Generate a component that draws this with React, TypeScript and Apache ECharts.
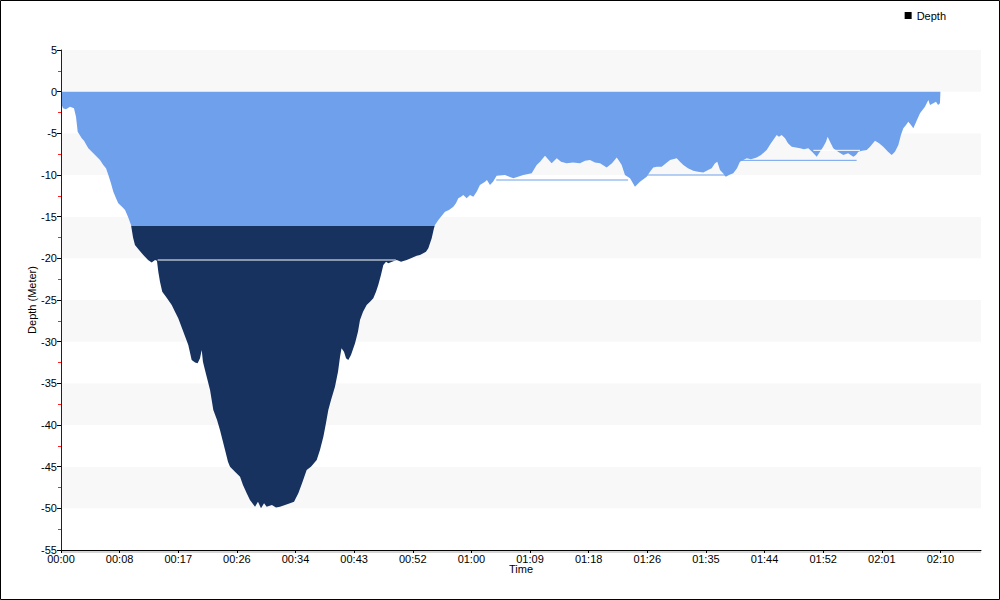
import React, { useEffect, useRef } from "react";
import * as echarts from "echarts";

// elapsed time in seconds
const times = [
  0, 6, 18, 44, 80, 115, 133, 148, 184, 204, 242, 302, 346, 375, 399, 420, 443, 464, 488, 508,
  541, 568, 594, 621, 639, 656, 692, 730, 772, 804, 834, 851, 863, 878, 898, 931, 982, 1011, 1040, 1085,
  1129, 1159, 1189, 1212, 1233, 1248, 1259, 1277, 1322, 1351, 1384, 1410, 1455, 1481, 1499, 1543, 1588, 1614, 1647, 1676,
  1721, 1747, 1774, 1801, 1824, 1871, 1907, 1942, 1987, 2031, 2067, 2105, 2138, 2179, 2217, 2268, 2297, 2327, 2350, 2371,
  2395, 2430, 2457, 2475, 2488, 2510, 2528, 2548, 2572, 2608, 2634, 2652, 2679, 2711, 2741, 2770, 2794, 2814, 2838, 2859,
  2883, 2903, 2936, 2978, 3016, 3066, 3104, 3155, 3184, 3213, 3237, 3258, 3288, 3308, 3317, 3347, 3370, 3406, 3441, 3480,
  3503, 3524, 3548, 3568, 3598, 3628, 3657, 3687, 3716, 3761, 3778, 3805, 3832, 3864, 3938, 4012, 4053, 4100, 4175, 4219,
  4249, 4293, 4320, 4352, 4397, 4435, 4485, 4541, 4603, 4648, 4692, 4736, 4781, 4840, 4887, 4929, 4949, 4973, 5002, 5047,
  5091, 5135, 5195, 5224, 5253, 5286, 5328, 5366, 5402, 5461, 5490, 5520, 5561, 5608, 5650, 5697, 5739, 5771, 5801, 5821,
  5845, 5872, 5896, 5925, 5963, 5996, 6022, 6082, 6120, 6170, 6209, 6259, 6297, 6348, 6368, 6392, 6422, 6448, 6481, 6519,
  6555, 6590, 6628, 6661, 6703, 6732, 6761, 6785, 6800, 6821, 6850, 6892, 6939, 6981, 7028, 7051, 7072, 7105, 7146, 7176,
  7220, 7256, 7293, 7335, 7368, 7397, 7427, 7450, 7471, 7495, 7515, 7539, 7560, 7592, 7619, 7663, 7693, 7708, 7737, 7761,
  7779, 7796, 7800,
];

// depth in meters
const depths = [
  0, -1.6, -2.0, -2.1, -1.8, -2.0, -3.0, -4.8, -5.6, -5.9, -6.8, -7.6, -8.2, -8.8, -9.2, -10, -11, -12, -12.8, -13.4,
  -13.8, -14.2, -15, -16, -17.5, -18.4, -19, -19.6, -20.2, -20.5, -20.2, -20.3, -21.6, -22.8, -24, -24.6, -25.6, -26.4, -27.2, -28.8,
  -30.4, -32.2, -32.5, -32.6, -32, -31, -32.4, -33.4, -35.8, -38.2, -39.4, -40.6, -43, -44.4, -45, -45.6, -46.2, -47.2, -48.2, -49,
  -49.8, -49.2, -50, -49.4, -49.8, -49.6, -49.9, -49.8, -49.6, -49.4, -49.2, -48.2, -47, -45.4, -45, -44.2, -43, -41.4, -39.8, -38.2,
  -37, -35.4, -33.6, -31.8, -30.8, -31.2, -32, -32.2, -31.6, -30.2, -28.8, -27.4, -26.4, -25.6, -25.2, -24.8, -24, -23.2, -22, -20.8,
  -20.4, -20.6, -20.4, -20.2, -20.4, -20.2, -20, -19.7, -19.6, -19.4, -19.2, -18.8, -17.6, -16.4, -16, -15.4, -15, -14.4, -14.2, -13.8,
  -13.4, -12.8, -12.6, -12.4, -12.8, -12.4, -12.6, -12, -11.2, -10.8, -10.6, -11.2, -10.8, -10.1, -10, -10.4, -10.2, -10, -9.8, -8.8,
  -8.4, -7.7, -8.1, -8.6, -8, -8.4, -8.6, -8.5, -8.6, -8.3, -8.2, -8.5, -8.6, -9.1, -8.6, -7.9, -8.3, -8.8, -10, -10.4,
  -11.4, -10.8, -10.2, -9.6, -9.1, -9, -9, -8.6, -8.2, -8, -8.4, -8.8, -9.2, -9.5, -9.6, -9.7, -9.4, -9.2, -8.6, -8.4,
  -9.4, -9.8, -10.2, -10, -9.8, -9.2, -8.4, -8, -8.1, -7.9, -7.6, -7, -6.2, -5.2, -5.4, -5.2, -5.6, -6.2, -6.6, -6.7,
  -6.8, -6.9, -6.8, -7.2, -7.8, -7.2, -6.6, -6, -5.4, -6, -6.8, -7.2, -7.6, -7.4, -7.8, -7.6, -7.2, -7.1, -7, -6.6,
  -5.9, -6.2, -6.6, -7.2, -7.6, -7.2, -6.4, -5.2, -4.4, -4, -3.6, -4, -4.4, -3.4, -2.6, -1.8, -1, -1.6, -1.4, -1.2,
  -1.6, -1.4, 0,
];

const xTickStep = 520;
const xMax = 8160;
const threshold = -16.1;

// stray horizontal strokes visible in the original fill: [startSec, endSec, depth, color]
const strokes: [number, number, number, string][] = [
  [857, 2970, -20.2, "#ffffff"],
  [3860, 5030, -10.6, "#6fa0ec"],
  [5195, 5896, -10.0, "#6fa0ec"],
  [6022, 7057, -8.24, "#6fa0ec"],
  [6673, 7087, -7.04, "#ffffff"],
];

const LIGHT = "#6fa0ec";
const DARK = "#17325f";

const fmtTime = (v: number) => {
  if (v % xTickStep !== 0) return "";
  const h = Math.floor(v / 3600);
  const m = Math.floor((v % 3600) / 60);
  return String(h).padStart(2, "0") + ":" + String(m).padStart(2, "0");
};

const FONT = "Liberation Sans";

export default function App() {
  const ref = useRef<HTMLDivElement>(null);
  useEffect(() => {
    if (!ref.current) return;
    const chart = echarts.init(ref.current, null, { renderer: "svg" });
    const data = times.map((t, i) => [t, depths[i]]);
    const deepest = Math.min(...depths);
    const f = threshold / deepest; // fraction of the fill's height above the threshold
    const fill = new echarts.graphic.LinearGradient(0, 0, 0, 1, [
      { offset: 0, color: LIGHT },
      { offset: f, color: LIGHT },
      { offset: f, color: DARK },
      { offset: 1, color: DARK },
    ]);
    const strokeSeries = strokes.map(([a, b, d, c], i) => ({
      name: "stroke" + i,
      type: "line",
      z: 4,
      silent: true,
      symbol: "none",
      showSymbol: false,
      data: [[a, d], [b, d]],
      lineStyle: { color: c, width: 1 },
      itemStyle: { color: c },
    }));
    const axisText = { fontFamily: FONT, fontSize: 11, color: "#000" };
    chart.setOption({
      animation: false,
      backgroundColor: "#ffffff",
      textStyle: { fontFamily: FONT },
      grid: { left: 61, right: 19, top: 50, bottom: 50, containLabel: false },
      legend: {
        right: 49,
        top: 5,
        itemWidth: 7,
        itemHeight: 7,
        itemGap: 4,
        textStyle: axisText,
        data: [{ name: "Depth", icon: "rect", itemStyle: { color: "#000" } }],
      },
      xAxis: {
        type: "value",
        min: 0,
        max: xMax,
        interval: xTickStep,
        name: "Time",
        nameLocation: "middle",
        nameGap: 13,
        nameMoveOverlap: false,
        nameTextStyle: axisText,
        axisLine: { show: true, onZero: false, lineStyle: { color: "#000", width: 1 } },
        axisTick: { show: true, length: 3, lineStyle: { color: "#000" } },
        axisLabel: {
          ...axisText,
          formatter: (v: number) => fmtTime(v),
          showMaxLabel: false,
          margin: 3,
        },
        splitLine: { show: false },
      },
      yAxis: [
        {
          type: "value",
          min: -55,
          max: 5,
          interval: 5,
          z: 3,
          name: "Depth (Meter)",
          nameLocation: "middle",
          nameGap: 24,
          nameMoveOverlap: false,
          nameTextStyle: axisText,
          axisLine: { show: true, onZero: false, lineStyle: { color: "#222", width: 1 } },
          axisTick: { show: true, length: 4, lineStyle: { color: "#000" } },
          axisLabel: { ...axisText, margin: 4 },
          splitLine: { show: false },
          splitArea: { show: true, areaStyle: { color: ["#ffffff", "#f8f8f8"] } },
        },
        {
          type: "value",
          min: -55,
          max: 5,
          interval: 2.5,
          position: "left",
          z: 2,
          axisLine: { show: false },
          axisTick: { show: true, length: 3, lineStyle: { color: "#ff2020" } },
          axisLabel: { show: false },
          splitLine: { show: false },
        },
      ],
      graphic: [
        {
          type: "rect",
          z: -1,
          shape: { x: 61, y: 551, width: 920, height: 2 },
          style: { fill: "#d4d4d4" },
          silent: true,
        },
        {
          type: "rect",
          shape: { x: 0.5, y: 0.5, width: 999, height: 599 },
          style: { fill: "none", stroke: "#000", lineWidth: 1 },
          silent: true,
        },
      ],
      series: [
        {
          name: "Depth",
          type: "line",
          z: 3,
          data,
          showSymbol: false,
          symbol: "none",
          itemStyle: { color: "#000" },
          lineStyle: { width: 0 },
          areaStyle: { color: fill, opacity: 1 },
        },
        {
          name: "Threshold",
          type: "line",
          z: 1,
          silent: true,
          symbol: "none",
          showSymbol: false,
          data: [[0, threshold], [xMax, threshold]],
          lineStyle: { color: "#6a6af0", width: 1, type: [3, 2] },
          itemStyle: { color: "#6a6af0" },
        },
        ...strokeSeries,
      ],
    });
    return () => chart.dispose();
  }, []);
  return (
    <div
      ref={ref}
      style={{ position: "fixed", left: 0, top: 0, width: 1000, height: 600 }}
    />
  );
}
